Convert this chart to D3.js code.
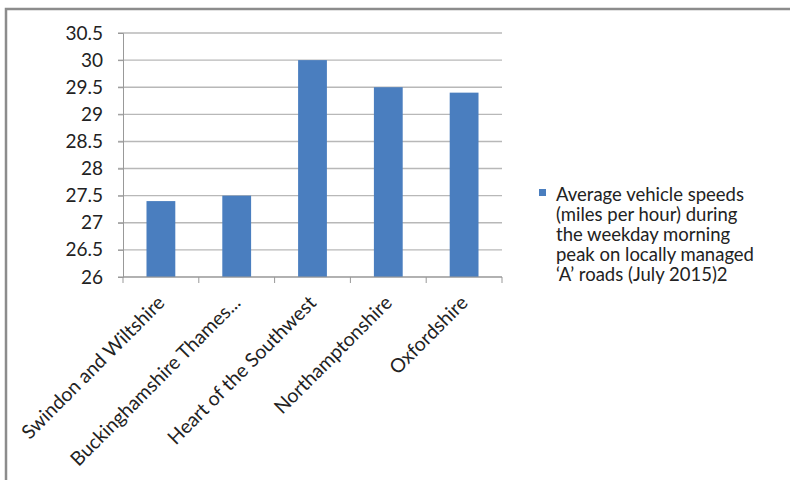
<!DOCTYPE html>
<html>
<head>
<meta charset="utf-8">
<script src="https://cdn.jsdelivr.net/npm/d3@7"></script>
<style>
  body { margin: 0; background: #fff; }
  svg { display: block; font-family: Lato, "Open Sans", sans-serif; }
</style>
</head>
<body>
<div id="chart"></div>
<script>
// data
const categories = ['Swindon and Wiltshire', 'Buckinghamshire Thames...', 'Heart of the Southwest', 'Northamptonshire', 'Oxfordshire']
const speeds = [27.4, 27.5, 30.0, 29.5, 29.4]
const yTicks = [26, 26.5, 27, 27.5, 28, 28.5, 29, 29.5, 30, 30.5]
const legendLines = ['Average vehicle speeds', '(miles per hour) during', 'the weekday morning', 'peak on locally managed', '\u2018A\u2019 roads (July 2015)2']

const width = 790, height = 480
const margin = { top: 33, left: 123, right: 288, bottom: 203 }

const svg = d3.select('#chart').append('svg')
    .attr('width', width)
    .attr('height', height)

// chart frame
svg.append('path')
    .attr('d', 'M6,' + height + 'V9H' + width)
    .attr('fill', 'none')
    .attr('stroke', '#8c8c8c')
    .attr('stroke-width', 2.5)

const x = d3.scaleBand()
    .domain(categories)
    .range([margin.left, width - margin.right])
    .paddingInner(0.62)
    .paddingOuter(0.31)

const y = d3.scaleLinear()
    .domain([26, 30.5])
    .range([height - margin.bottom, margin.top])

// gridlines
svg.append('g')
    .selectAll('line')
    .data(yTicks)
    .join('line')
    .attr('x1', margin.left - 5)
    .attr('x2', width - margin.right)
    .attr('y1', d => y(d))
    .attr('y2', d => y(d))
    .attr('stroke', '#b8b8b8')
    .attr('stroke-width', 1.4)

// y axis
const yAxis = svg.append('g')
    .attr('transform', 'translate(' + margin.left + ',0)')
    .call(d3.axisLeft(y).tickValues(yTicks).tickSize(5).tickPadding(15).tickFormat(d3.format('')))
yAxis.select('.domain').attr('stroke', '#999')
yAxis.selectAll('.tick line').attr('stroke', '#999')
yAxis.selectAll('text')
    .attr('font-size', 19)
    .attr('fill', '#222')
    .attr('font-family', 'Lato, sans-serif')

// bars
svg.append('g')
    .selectAll('rect')
    .data(speeds)
    .join('rect')
    .attr('x', (d, i) => x(categories[i]))
    .attr('width', x.bandwidth())
    .attr('y', d => y(d))
    .attr('height', d => y(26) - y(d))
    .attr('fill', '#4a7ebf')

// x axis with ticks on category boundaries
const bottom = height - margin.bottom
svg.append('line')
    .attr('x1', margin.left)
    .attr('x2', width - margin.right)
    .attr('y1', bottom)
    .attr('y2', bottom)
    .attr('stroke', '#999')

const step = x.step()
svg.append('g')
    .selectAll('line')
    .data(d3.range(categories.length + 1))
    .join('line')
    .attr('x1', i => margin.left + i * step)
    .attr('x2', i => margin.left + i * step)
    .attr('y1', bottom)
    .attr('y2', bottom + 6)
    .attr('stroke', '#999')

svg.append('g')
    .selectAll('text')
    .data(categories)
    .join('text')
    .attr('transform', d => 'translate(' + (x(d) + x.bandwidth() / 2 + 5) + ',' + (bottom + 27) + ') rotate(-45)')
    .attr('text-anchor', 'end')
    .attr('font-size', 19.5)
    .attr('fill', '#222')
    .text(d => d)

// legend
const legend = svg.append('g')
    .attr('transform', 'translate(539,189)')
legend.append('rect')
    .attr('width', 7)
    .attr('height', 7)
    .attr('fill', '#4a7ebf')
legend.selectAll('text')
    .data(legendLines)
    .join('text')
    .attr('x', 17)
    .attr('y', (d, i) => 12 + i * 20)
    .attr('font-size', 18.5)
    .attr('fill', '#222')
    .text(d => d)
</script>
</body>
</html>
